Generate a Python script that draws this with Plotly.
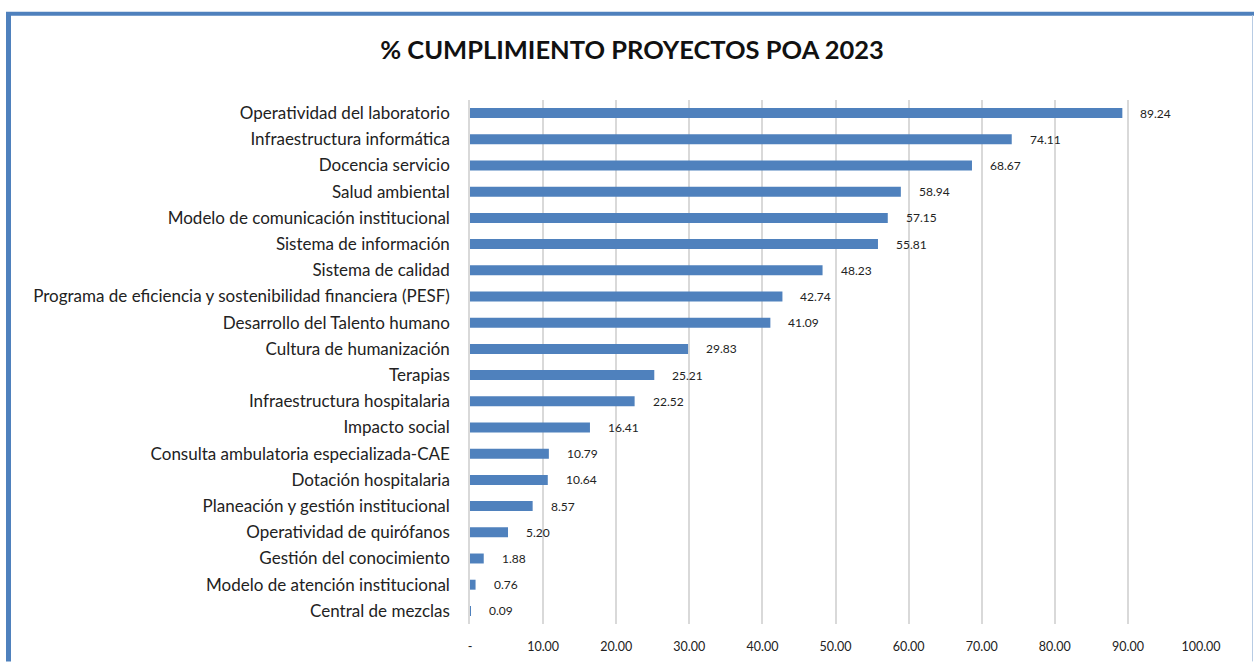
import plotly.graph_objects as go

categories = [
    "Operatividad del laboratorio",
    "Infraestructura informática",
    "Docencia servicio",
    "Salud ambiental",
    "Modelo de comunicación institucional",
    "Sistema de información",
    "Sistema de calidad",
    "Programa de eficiencia y sostenibilidad financiera (PESF)",
    "Desarrollo del Talento humano",
    "Cultura de humanización",
    "Terapias",
    "Infraestructura hospitalaria",
    "Impacto social",
    "Consulta ambulatoria especializada-CAE",
    "Dotación hospitalaria",
    "Planeación y gestión institucional",
    "Operatividad de quirófanos",
    "Gestión del conocimiento",
    "Modelo de atención institucional",
    "Central de mezclas",
]
values = [89.24, 74.11, 68.67, 58.94, 57.15, 55.81, 48.23, 42.74, 41.09, 29.83,
          25.21, 22.52, 16.41, 10.79, 10.64, 8.57, 5.20, 1.88, 0.76, 0.09]
tick_vals = [0, 10, 20, 30, 40, 50, 60, 70, 80, 90, 100]
tick_text = ["-", "10.00", "20.00", "30.00", "40.00", "50.00", "60.00", "70.00", "80.00", "90.00", "100.00"]
title_text = "% CUMPLIMIENTO PROYECTOS POA 2023"

FONT = "Lato"
BAR = "#4F81BD"

W, H = 1254, 666
L, R, T, B = 470, 53, 100, 34
PW, PH = W - L - R, H - T - B


def px_x(p):
    return (p - L) / PW


def px_y(p):
    return (H - B - p) / PH


fig = go.Figure()
fig.add_trace(go.Bar(
    x=values, y=categories, orientation="h",
    marker=dict(color=BAR, line=dict(width=0)),
    width=0.38, hoverinfo="x+y",
))

for c, v in zip(categories, values):
    fig.add_annotation(x=v, y=c, text=f"{v:.2f}", showarrow=False,
                       xanchor="left", xshift=16,
                       font=dict(family=FONT, size=12, color="#222222"))

fig.update_layout(
    width=W, height=H,
    margin=dict(l=L, r=R, t=T, b=B),
    paper_bgcolor="white", plot_bgcolor="white",
    showlegend=False,
    font=dict(family=FONT, color="#222222"),
    title=dict(text=f"<b>{title_text}</b>", x=0.504, xanchor="center",
               y=1 - 50 / H, yanchor="middle",
               font=dict(family=FONT, size=25.5, color="#111111")),
)
fig.update_xaxes(
    range=[0, 100], tickvals=tick_vals, ticktext=tick_text,
    showgrid=True, gridcolor="#D9D9D9", gridwidth=1.5,
    zeroline=False, showline=False, ticks="",
    tickfont=dict(family=FONT, size=12.5, color="#222222"),
    ticklabelstandoff=13, fixedrange=True,
)
fig.update_yaxes(
    categoryorder="array", categoryarray=categories[::-1],
    autorange=False, range=[-0.5, len(categories) - 0.5],
    showgrid=False, zeroline=False,
    showline=True, linecolor="#D9D9D9", linewidth=1.5,
    ticks="", ticklabelstandoff=15,
    tickfont=dict(family=FONT, size=17, color="#222222"),
    fixedrange=True,
)

# Outer chart frame (blue border like the original Excel chart box)
fig.add_shape(type="line", xref="paper", yref="paper",
              x0=px_x(8.5), x1=px_x(8.5), y0=px_y(11), y1=px_y(670),
              line=dict(color=BAR, width=5))
fig.add_shape(type="line", xref="paper", yref="paper",
              x0=px_x(6), x1=px_x(1256), y0=px_y(12.5), y1=px_y(12.5),
              line=dict(color=BAR, width=4))
fig.add_shape(type="line", xref="paper", yref="paper",
              x0=px_x(1252.5), x1=px_x(1252.5), y0=px_y(14), y1=px_y(670),
              line=dict(color="#B8CCE4", width=1))

fig.write_html("out.html", config={"displayModeBar": False},
               post_script="document.body.style.margin='0';document.body.style.overflow='hidden';")
